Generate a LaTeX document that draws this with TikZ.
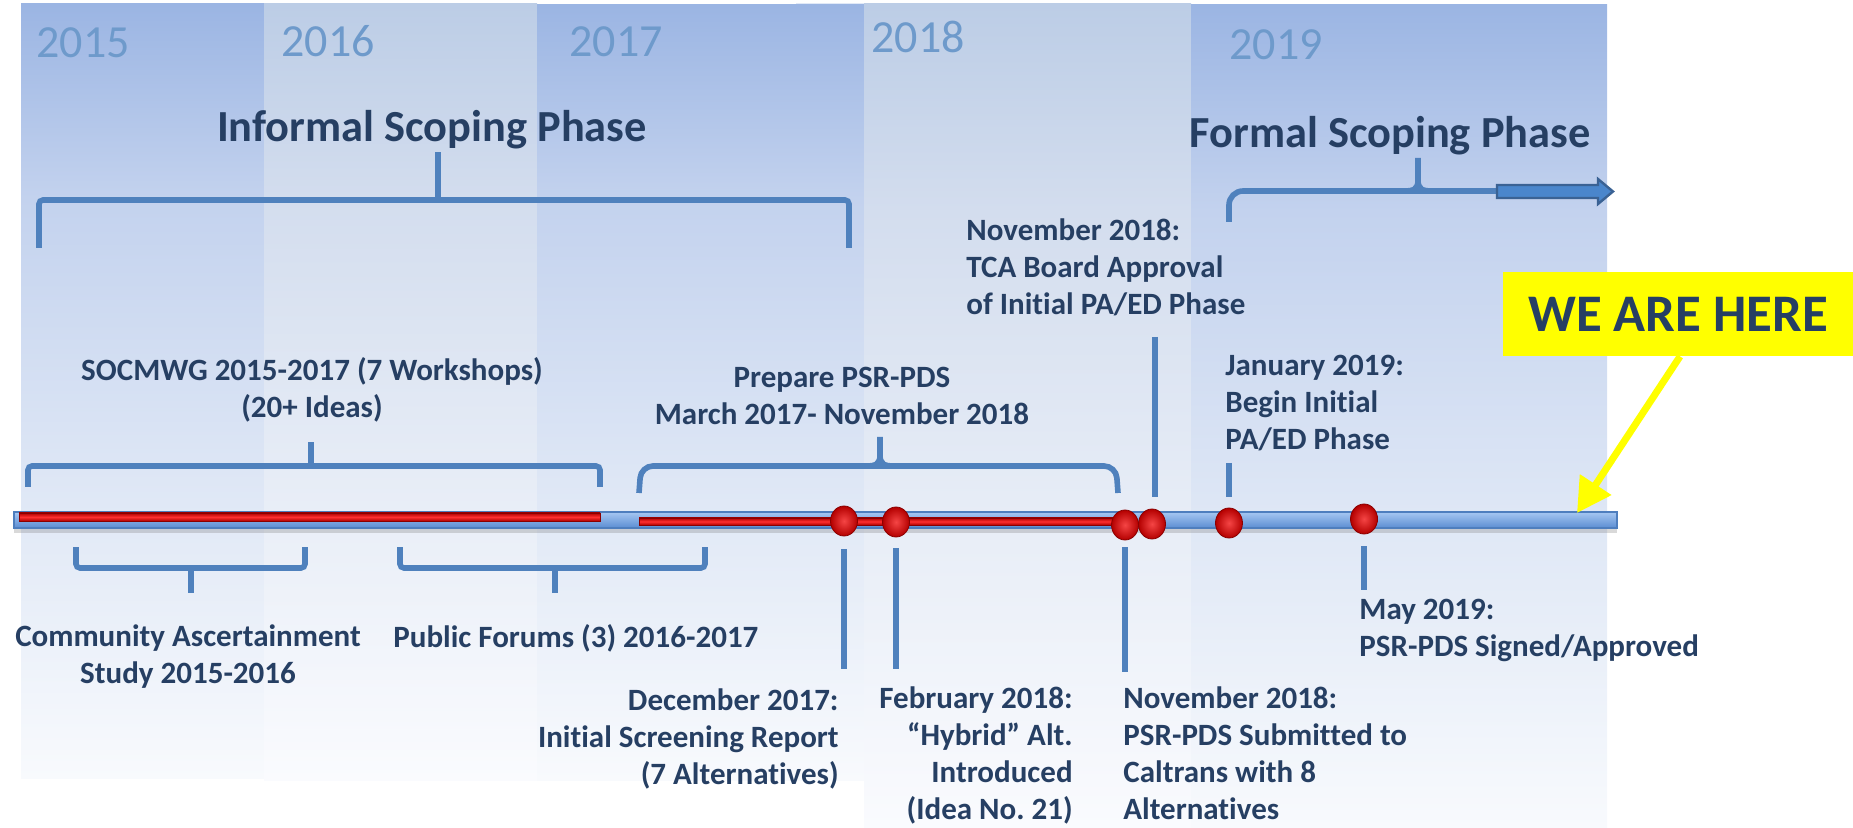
\documentclass[tikz,border=0pt]{standalone}
\usepackage{fontspec}
\setmainfont[Ligatures=NoCommon]{Carlito}
\usetikzlibrary{arrows.meta,shadows,shapes.geometric}
\frenchspacing
\definecolor{navy}{HTML}{263F63}
\definecolor{yearblue}{HTML}{6E9ACB}
\definecolor{linblue}{HTML}{4F81BD}
\definecolor{bandBa}{HTML}{F8FAFD}
\definecolor{bandBb}{HTML}{DDE6F5}
\definecolor{bandBc}{HTML}{C3D2EE}
\definecolor{bandBd}{HTML}{9BB5E3}
\definecolor{bandLa}{HTML}{FAFBFE}
\definecolor{bandLb}{HTML}{E6ECF6}
\definecolor{bandLc}{HTML}{D3DDEE}
\definecolor{bandLd}{HTML}{BCCDE6}
\definecolor{barTop}{HTML}{A6C7F2}
\definecolor{barBot}{HTML}{5B8DD2}
\definecolor{barEdge}{HTML}{4E7EBE}
\definecolor{redTop}{HTML}{B00000}
\definecolor{redMid}{HTML}{FF3030}
\definecolor{redEdge}{HTML}{8A0000}
\definecolor{dotIn}{HTML}{F54545}
\definecolor{dotOut}{HTML}{B40000}
\definecolor{arrFill}{HTML}{4A86CC}
\definecolor{arrEdge}{HTML}{3A6294}
\definecolor{hereYellow}{HTML}{FFFF00}
\pgfdeclareverticalshading{bandblue}{100bp}{color(0bp)=(bandBa); color(25bp)=(bandBa); color(45bp)=(bandBb); color(62.5bp)=(bandBc); color(75bp)=(bandBd); color(100bp)=(bandBd)}
\pgfdeclareverticalshading{bandlight}{100bp}{color(0bp)=(bandLa); color(25bp)=(bandLa); color(45bp)=(bandLb); color(62.5bp)=(bandLc); color(75bp)=(bandLd); color(100bp)=(bandLd)}
\tikzset{
  year/.style={font=\fontsize{23}{27}\selectfont, text=yearblue, inner sep=0pt},
  head/.style={font=\fontsize{22.2}{26}\selectfont\bfseries, text=navy, inner sep=0pt},
  lbl/.style={font=\fontsize{15.5}{18.5}\selectfont\bfseries, text=navy, inner sep=0pt},
  brk/.style={draw=linblue, line width=2.8pt, rounded corners=2pt},
  vl/.style={draw=linblue, line width=3.2pt},
  reddot/.style={ellipse, minimum width=13.5pt, minimum height=15pt, inner sep=0pt,
    draw=redEdge, line width=0.4pt, inner color=dotIn, outer color=dotOut},
  redbar/.style={draw=redEdge, line width=0.4pt, top color=redTop, bottom color=redTop, middle color=redMid},
  yarrow/.style={draw=hereYellow, line width=3.5pt, -{Triangle[length=17pt,width=18pt]}}
}
\begin{document}
\begin{tikzpicture}[x=0.5pt,y=-0.5pt]
\useasboundingbox (0,0) rectangle (1853,828);
% year bands
\shade[shading=bandblue] (21,4) rectangle (264,778);
\shade[shading=bandlight] (264,4) rectangle (537,780);
\shade[shading=bandblue] (537,5) rectangle (864,780);
\shade[shading=bandblue, opacity=0.3] (796,4) rectangle (864,780);
\shade[shading=bandlight] (864,4) rectangle (1191,828);
\shade[shading=bandblue] (1191,5) rectangle (1607,828);
% year labels
\node[year, anchor=base west] (y2015) at (36,58) {2015};
\node[year, anchor=base west] (y2016) at (281,57) {2016};
\node[year, anchor=base west] (y2017) at (569,57) {2017};
\node[year, anchor=base west] (y2018) at (871,53) {2018};
\node[year, anchor=base west] (y2019) at (1229,60) {2019};
% phase headings
\node[head, anchor=base] (informal) at (432,142) {Informal Scoping Phase};
\node[head, anchor=base] (formal) at (1390,148) {Formal Scoping Phase};
% informal bracket
\coordinate (infL) at (39,248);
\coordinate (infR) at (849,248);
\coordinate (infS) at (438,152);
\draw[brk] (infL) -- (39,200) -- (849,200) -- (infR);
\draw[brk] (438,200) -- (infS);
% formal bracket with arrow
\coordinate (forL) at (1229,222);
\coordinate (forS) at (1418,158);
\draw[brk, rounded corners=7pt] (forL) -- (1229,191) -- (1498,191);
\draw[draw=linblue, line width=2.8pt] (1404,191) .. controls (1414,191) and (1418,189) .. (1418,180) -- (forS);
\draw[draw=linblue, line width=2.8pt] (1432,191) .. controls (1422,191) and (1418,189) .. (1418,180);
\draw[fill=arrFill, draw=arrEdge, line width=1.2pt] (1497,185) -- (1598,185) -- (1598,179) -- (1613,191.5) -- (1598,204) -- (1598,198) -- (1497,198) -- cycle;
% SOCMWG bracket and label
\node[lbl, align=center, anchor=base] (socmwg) at (312,418) {SOCMWG 2015-2017 (7 Workshops)\\(20+ Ideas)};
\coordinate (socL) at (28,487);
\coordinate (socR) at (600,487);
\coordinate (socS) at (311,442);
\draw[brk] (socL) -- (28,466) -- (600,466) -- (socR);
\draw[brk] (311,466) -- (socS);
% Prepare bracket and label
\node[lbl, align=center, anchor=base] (prep) at (842,425) {Prepare PSR-PDS\\March 2017- November 2018};
\coordinate (preL) at (639,493);
\coordinate (preR) at (1118,493);
\coordinate (preS) at (880,437);
\draw[brk, rounded corners=6pt] (preL) -- (641,466) -- (1116,466) -- (preR);
\draw[draw=linblue, line width=2.8pt] (866,466) .. controls (876,466) and (880,464) .. (880,455) -- (preS);
\draw[draw=linblue, line width=2.8pt] (894,466) .. controls (884,466) and (880,464) .. (880,455);
% timeline bar
\path[draw=barEdge, line width=0.8pt, top color=barTop, bottom color=barBot,
  drop shadow={shadow xshift=0pt, shadow yshift=-2.5pt, opacity=0.3}] (14,512) rectangle (1617,528);
\path[redbar] (19,513) rectangle (600,521);
\path[redbar] (639,518) rectangle (1116,525);
% dots
\node[reddot] (dDec) at (844,521) {};
\node[reddot] (dFeb) at (896,522) {};
\node[reddot] (dNov) at (1125,525) {};
\node[reddot] (dTca) at (1152,524) {};
\node[reddot] (dJan) at (1229,523) {};
\node[reddot] (dMay) at (1364,519) {};
% upper labels and lines
\node[lbl, align=left, anchor=base west] (tca) at (966,315) {November 2018:\\TCA Board Approval\\of Initial PA/ED Phase};
\coordinate (tcaTop) at (1155,337);
\coordinate (tcaBot) at (1155,497);
\draw[vl] (tcaTop) -- (tcaBot);
\node[lbl, align=left, anchor=base west] (jan) at (1225,450) {January 2019:\\Begin Initial\\PA/ED Phase};
\coordinate (janTop) at (1229,463);
\coordinate (janBot) at (1229,497);
\draw[vl] (janTop) -- (janBot);
% lower brackets
\node[lbl, align=center, anchor=base] (comm) at (188,683) {Community Ascertainment\\Study 2015-2016};
\coordinate (comL) at (76,547);
\coordinate (comR) at (305,547);
\coordinate (comS) at (191,593);
\draw[brk] (comL) -- (76,568) -- (305,568) -- (comR);
\draw[brk] (191,568) -- (comS);
\node[lbl, anchor=base west] (pub) at (393,647) {Public Forums (3) 2016-2017};
\coordinate (pubL) at (400,547);
\coordinate (pubR) at (705,547);
\coordinate (pubS) at (555,593);
\draw[brk] (pubL) -- (400,568) -- (705,568) -- (pubR);
\draw[brk] (555,568) -- (pubS);
% lower event labels and lines
\node[lbl, align=right, anchor=base east] (dec) at (839,784) {December 2017:\\Initial Screening Report\\(7 Alternatives)};
\coordinate (decTop) at (844,549);
\coordinate (decBot) at (844,669);
\draw[vl] (decTop) -- (decBot);
\node[lbl, align=right, anchor=base east] (feb) at (1073,819) {February 2018:\\“Hybrid” Alt.\\Introduced\\(Idea No. 21)};
\coordinate (febTop) at (896,548);
\coordinate (febBot) at (896,669);
\draw[vl] (febTop) -- (febBot);
\node[lbl, align=left, anchor=base west] (nov) at (1123,819) {November 2018:\\PSR-PDS Submitted to\\Caltrans with 8\\Alternatives};
\coordinate (novTop) at (1125,547);
\coordinate (novBot) at (1125,672);
\draw[vl] (novTop) -- (novBot);
\node[lbl, align=left, anchor=base west] (may) at (1359,656) {May 2019:\\PSR-PDS Signed/Approved};
\coordinate (mayTop) at (1364,546);
\coordinate (mayBot) at (1364,590);
\draw[vl] (mayTop) -- (mayBot);
% we are here
\node[fill=hereYellow, minimum width=175pt, minimum height=42pt, inner sep=0pt,
  font=\fontsize{26.4}{30}\selectfont\bfseries, text=navy] (here) at (1678,314) {WE ARE HERE};
\coordinate (hereTip) at (1577,513);
\draw[yarrow] ([xshift=1pt]here.south) -- (hereTip);
\end{tikzpicture}
\end{document}
